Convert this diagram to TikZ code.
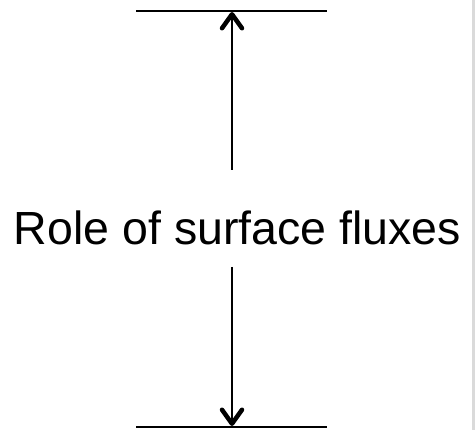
\documentclass[tikz,border=0pt]{standalone}
\usepackage{fontspec}
\setmainfont{Liberation Sans}
\usetikzlibrary{arrows.meta}
\begin{document}
\begin{tikzpicture}[x=1pt,y=-1pt,
  bar/.style={line width=1.6pt},
  flux/.style={line width=1.4pt,-{Straight Barb[length=14pt,width=20pt,line width=4.5pt 0,round]}},
  label/.style={font=\fontsize{46.5}{56}\selectfont,inner sep=0pt}]
\useasboundingbox (0,0) rectangle (475,430);
\fill[fill={rgb,255:red,218;green,218;blue,218}] (472,0) rectangle (475,430);
\coordinate (tl) at (136,11);
\coordinate (tr) at (327,11);
\coordinate (tm) at (232,12);
\coordinate (bl) at (136,427);
\coordinate (br) at (327,427);
\coordinate (bm) at (232,426);
\coordinate (ts) at (232,170);
\coordinate (bs) at (232,267);
\draw[bar] (tl) -- (tr);
\draw[bar] (bl) -- (br);
\node[label,anchor=base] (role) at (237.5,245) {Role of surface fluxes};
\draw[flux] (ts) -- (tm);
\draw[flux] (bs) -- (bm);
\end{tikzpicture}
\end{document}
